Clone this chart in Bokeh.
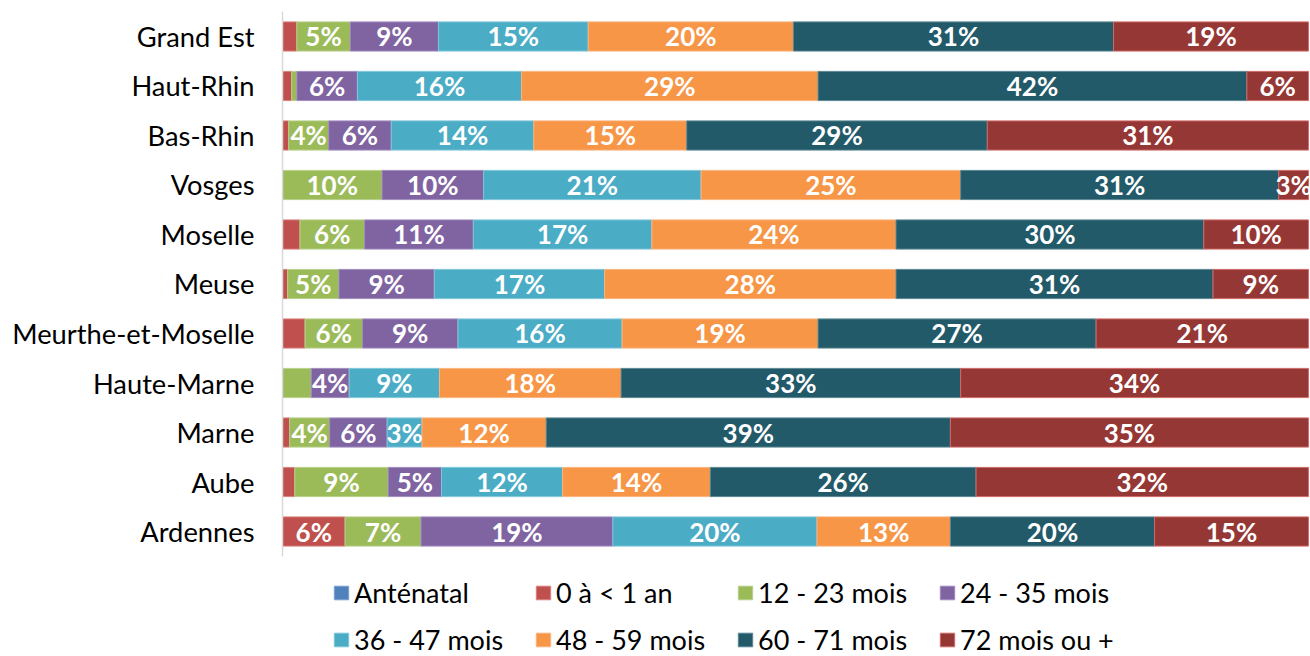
from bokeh.plotting import figure
from bokeh.models import ColumnDataSource, Legend, LegendItem, Range1d, FixedTicker
from bokeh.core.properties import value
from bokeh.embed import file_html
from bokeh.resources import INLINE

categories = ["Grand Est", "Haut-Rhin", "Bas-Rhin", "Vosges", "Moselle", "Meuse",
              "Meurthe-et-Moselle", "Haute-Marne", "Marne", "Aube", "Ardennes"]

series_names = ["Anténatal", "0 à < 1 an", "12 - 23 mois", "24 - 35 mois",
                "36 - 47 mois", "48 - 59 mois", "60 - 71 mois", "72 mois ou +"]

antenatal = [0.0, 0.0, 0.0, 0.0, 0.0, 0.0, 0.0, 0.0, 0.0, 0.0, 0.0]
m0_1 = [1.4, 0.9, 0.6, 0.0, 1.7, 0.5, 2.2, 0.0, 0.7, 1.2, 6.1]
m12_23 = [5.2, 0.5, 3.9, 9.7, 6.3, 5.0, 5.6, 2.8, 3.9, 9.1, 7.4]
m24_35 = [8.6, 5.9, 6.1, 9.9, 10.6, 9.3, 9.3, 3.7, 5.6, 5.2, 18.7]
m36_47 = [14.6, 16.0, 13.9, 21.2, 17.4, 16.6, 16.0, 8.8, 3.4, 11.8, 19.9]
m48_59 = [20.0, 28.9, 14.9, 25.3, 23.8, 28.4, 19.1, 17.7, 12.1, 14.4, 13.0]
m60_71 = [31.2, 41.8, 29.3, 31.0, 30.0, 30.9, 27.1, 33.1, 39.4, 25.9, 19.9]
m72 = [19.0, 6.0, 31.3, 2.9, 10.2, 9.3, 20.7, 33.9, 34.9, 32.4, 15.0]

series = [antenatal, m0_1, m12_23, m24_35, m36_47, m48_59, m60_71, m72]

fill_colors = ["#4F81BD", "#C0504D", "#9BBB59", "#8064A2", "#4BACC6", "#F79646", "#225A69", "#953735"]
line_colors = ["#7EA1D1", "#D9827F", "#B7D08A", "#A28CBF", "#7FC6DA", "#FAB37F", "#5B8793", "#CF6A67"]

keys = ["s%d" % i for i in range(len(series))]
idx = list(range(len(categories)))
data = {"idx": idx}
for k, vals in zip(keys, series):
    data[k] = vals
source = ColumnDataSource(data)

p = figure(width=1310, height=656,
           y_range=Range1d(start=12.525, end=-0.727),
           x_range=Range1d(0, 100.2),
           x_axis_location=None,
           output_backend="svg", toolbar_location=None,
           min_border_left=282, min_border_right=0,
           min_border_top=0, min_border_bottom=0)

renderers = p.hbar_stack(keys, y="idx", height=0.59, source=source,
                         fill_color=fill_colors, line_color=line_colors, line_width=1)

# data labels
lx, ly, lt = [], [], []
for ci in idx:
    left = 0.0
    for s in series:
        v = s[ci]
        if v >= 2.9:
            lx.append(left + v / 2.0)
            ly.append(ci)
            lt.append("{:.0f}%".format(v))
        left += v
lab_src = ColumnDataSource(dict(x=lx, y=ly, t=lt))
p.text(x="x", y="y", text="t", source=lab_src, text_align="center",
       text_baseline="middle", text_color="white", text_font=value("Lato"),
       text_font_style="bold", text_font_size="26px")

p.xgrid.visible = False
p.ygrid.visible = False
p.outline_line_color = None
yax = p.yaxis[0]
yax.ticker = FixedTicker(ticks=idx)
yax.major_label_overrides = {i: c for i, c in zip(idx, categories)}
yax.bounds = (-0.5, len(categories) - 0.5)
yax.axis_line_color = "#D9D9D9"
yax.axis_line_width = 1.5
yax.major_tick_line_color = None
yax.minor_tick_line_color = None
yax.major_label_standoff = 22
yax.major_label_text_font = "Lato"
yax.major_label_text_font_size = "27.3px"
yax.major_label_text_color = "#000000"

items = [LegendItem(label=n, renderers=[r]) for n, r in zip(series_names, renderers)]
legend = Legend(items=items, ncols=4, orientation="horizontal",
                location=(50, -7),
                label_text_font="Lato", label_text_font_size="27px",
                label_text_color="#000000",
                glyph_width=18, glyph_height=17, label_standoff=4,
                label_width=180, label_height=47,
                spacing=0, padding=0, margin=0,
                border_line_color=None, background_fill_alpha=0)
p.add_layout(legend, "center")

open("out.html", "w").write(file_html(p, INLINE))
